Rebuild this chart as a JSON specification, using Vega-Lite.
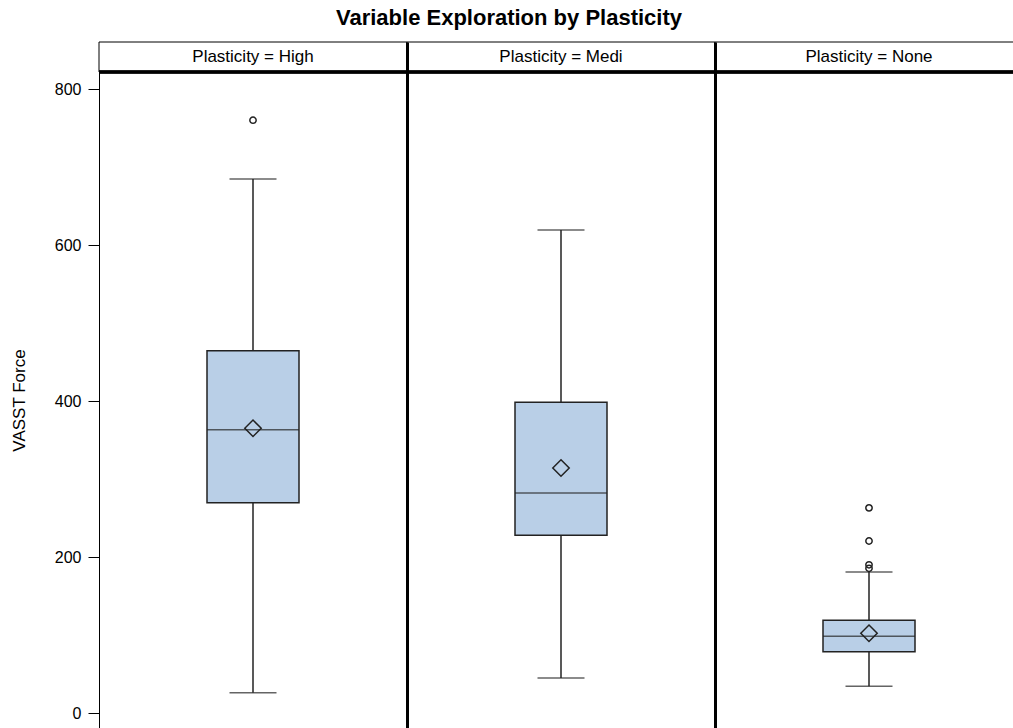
{
  "$schema": "https://vega.github.io/schema/vega-lite/v6.json",
  "autosize": "none",
  "width": 914,
  "height": 686,
  "padding": {"left": 99, "top": 42, "right": 0, "bottom": 0},
  "background": "white",
  "config": {
    "font": "Liberation Sans",
    "view": {"stroke": null}
  },
  "title": {
    "text": "Variable Exploration by Plasticity",
    "font": "Liberation Sans",
    "fontSize": 22,
    "fontWeight": "bold",
    "color": "black",
    "anchor": "middle",
    "frame": "group",
    "dx": -47,
    "offset": 12
  },
  "datasets": {
    "summary": [
      {"Plasticity": "High", "Panel": "Plasticity = High", "lower": 26, "q1": 269.6, "median": 363.2, "q3": 464.5, "upper": 684.6, "mean": 365},
      {"Plasticity": "Medi", "Panel": "Plasticity = Medi", "lower": 45, "q1": 227.8, "median": 282, "q3": 398.3, "upper": 619.2, "mean": 314.1},
      {"Plasticity": "None", "Panel": "Plasticity = None", "lower": 34.2, "q1": 78.6, "median": 98.3, "q3": 118.8, "upper": 180.8, "mean": 102.2}
    ],
    "outliers": [
      {"Plasticity": "High", "value": 760},
      {"Plasticity": "None", "value": 263},
      {"Plasticity": "None", "value": 220.5},
      {"Plasticity": "None", "value": 190},
      {"Plasticity": "None", "value": 185.5}
    ]
  },
  "encoding": {
    "x": {
      "field": "Plasticity",
      "type": "nominal",
      "scale": {"domain": ["High", "Medi", "None"], "range": [0, 924], "paddingInner": 0, "paddingOuter": 0},
      "axis": {
        "orient": "bottom",
        "title": null,
        "labels": false,
        "ticks": false,
        "domain": false,
        "grid": true,
        "bandPosition": 0,
        "gridColor": "black",
        "gridWidth": 3,
        "gridOpacity": {"condition": {"test": "datum.value === 'High'", "value": 0}, "value": 1}
      }
    }
  },
  "layer": [
    {
      "data": {"name": "summary"},
      "mark": {"type": "rect", "fill": "white", "stroke": "black", "strokeWidth": 1},
      "encoding": {
        "y": {
          "datum": 821.8,
          "type": "quantitative",
          "scale": {"domain": [-19.23, 860.26], "nice": false, "zero": false},
          "axis": {
            "values": [0, 200, 400, 600, 800],
            "title": "VASST Force",
            "titleFont": "Liberation Sans",
            "titleFontSize": 17,
            "titleFontWeight": "normal",
            "titleColor": "black",
            "titleAngle": 270,
            "titleX": -80,
            "titleY": 358,
            "titleAlign": "center",
            "titleBaseline": "middle",
            "labelFont": "Liberation Sans",
            "labelFontSize": 16,
            "labelColor": "black",
            "labelPadding": 7,
            "tickSize": 11,
            "tickColor": "black",
            "domainColor": "black",
            "domainWidth": 1,
            "grid": false
          }
        },
        "y2": {"datum": 860.26}
      }
    },
    {
      "data": {"name": "summary"},
      "mark": {"type": "text", "font": "Liberation Sans", "fontSize": 17, "color": "black", "baseline": "middle", "align": "center"},
      "encoding": {
        "y": {"datum": 841, "type": "quantitative"},
        "text": {"field": "Panel"}
      }
    },
    {
      "data": {"name": "summary"},
      "mark": {"type": "rule", "color": "black", "strokeWidth": 3},
      "encoding": {
        "x": null,
        "y": {"datum": 821.8, "type": "quantitative"}
      }
    },
    {
      "data": {"name": "summary"},
      "mark": {"type": "rule", "color": "#222222", "strokeWidth": 1.5},
      "encoding": {
        "y": {"field": "lower", "type": "quantitative"},
        "y2": {"field": "upper"}
      }
    },
    {
      "data": {"name": "summary"},
      "mark": {"type": "tick", "color": "#222222", "size": 47, "thickness": 1.5, "orient": "horizontal"},
      "encoding": {
        "y": {"field": "lower", "type": "quantitative"}
      }
    },
    {
      "data": {"name": "summary"},
      "mark": {"type": "tick", "color": "#222222", "size": 47, "thickness": 1.5, "orient": "horizontal"},
      "encoding": {
        "y": {"field": "upper", "type": "quantitative"}
      }
    },
    {
      "data": {"name": "summary"},
      "mark": {"type": "bar", "width": 92, "fill": "#B9CFE7", "stroke": "#222222", "strokeWidth": 1.5},
      "encoding": {
        "y": {"field": "q1", "type": "quantitative"},
        "y2": {"field": "q3"}
      }
    },
    {
      "data": {"name": "summary"},
      "mark": {"type": "tick", "color": "#222222", "size": 92, "thickness": 1.5, "orient": "horizontal"},
      "encoding": {
        "y": {"field": "median", "type": "quantitative"}
      }
    },
    {
      "data": {"name": "summary"},
      "mark": {"type": "point", "shape": "diamond", "filled": false, "size": 270, "stroke": "#222222", "strokeWidth": 1.5, "opacity": 1},
      "encoding": {
        "y": {"field": "mean", "type": "quantitative"}
      }
    },
    {
      "data": {"name": "outliers"},
      "mark": {"type": "point", "shape": "circle", "filled": false, "size": 40, "stroke": "#222222", "strokeWidth": 1.5, "opacity": 1},
      "encoding": {
        "y": {"field": "value", "type": "quantitative"}
      }
    }
  ]
}
